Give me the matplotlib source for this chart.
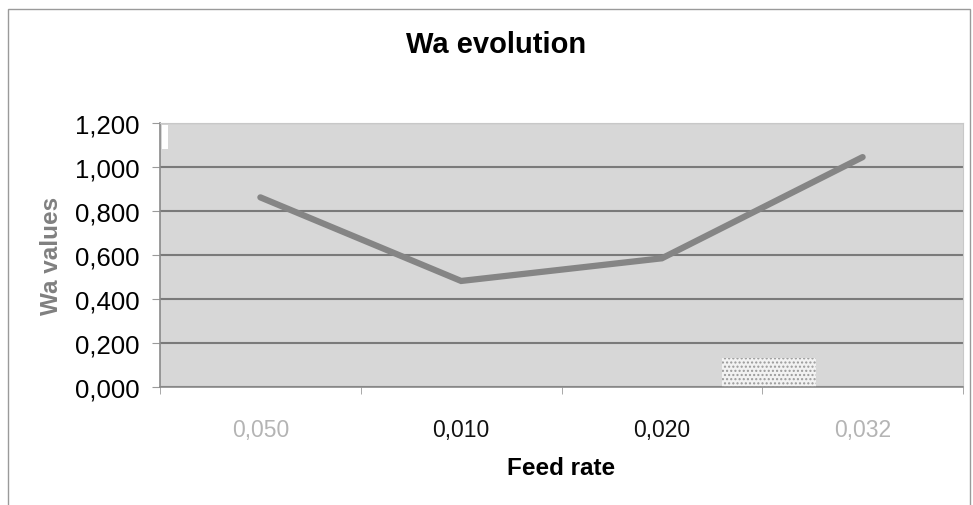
import numpy as np
from matplotlib import pyplot as plt
from matplotlib.patches import Rectangle
from matplotlib.ticker import FixedLocator, FuncFormatter

# data
feed_rates = ["0,050", "0,010", "0,020", "0,032"]
wa_values = [0.862, 0.482, 0.585, 1.045]
label_colors = ["#b4b4b4", "#111111", "#111111", "#b4b4b4"]

plt.rcParams['font.family'] = ['Liberation Sans', 'DejaVu Sans']

fig = plt.figure(figsize=(9.73, 5.06), dpi=100)
ax = fig.add_axes([160 / 973, 1 - 388 / 506, 803 / 973, 264 / 506])

# outer chart frame
fig.patches.append(Rectangle((8 / 973, -0.01), 962 / 973, 1 - 10 / 506 + 0.01,
                             transform=fig.transFigure, fill=False,
                             edgecolor="#9a9a9a", linewidth=1.0))

ax.set_facecolor("#d7d7d7")
x = np.arange(len(feed_rates))
ax.plot(x, wa_values, color="#858585", linewidth=4.5, solid_capstyle="round",
        solid_joinstyle="miter", zorder=3)

ax.set_xlim(-0.5, len(feed_rates) - 0.5)
ax.set_ylim(0, 1.2)

ax.yaxis.set_major_locator(FixedLocator(np.arange(0, 1.21, 0.2)))
ax.yaxis.set_major_formatter(FuncFormatter(lambda v, p: "{:.3f}".format(v).replace(".", ",")))
ax.grid(axis="y", color="#7a7a7a", linewidth=1.5, zorder=1)
ax.set_axisbelow(True)

ax.set_xticks(x)
ax.set_xticklabels(feed_rates, fontsize=16.5)
for lbl, c in zip(ax.get_xticklabels(), label_colors):
    lbl.set_color(c)
ax.tick_params(axis="x", which="major", length=0, pad=22)
ax.set_xticks(np.arange(-0.5, len(feed_rates)), minor=True)
ax.tick_params(axis="x", which="minor", length=5, color="#9a9a9a", direction="out")
ax.tick_params(axis="y", length=6, color="#9a9a9a", labelsize=18.5, pad=9)

for name in ["left", "bottom"]:
    ax.spines[name].set_color("#8a8a8a")
    ax.spines[name].set_linewidth(1.2)
for name in ["top", "right"]:
    ax.spines[name].set_color("#c8c8c8")

fig.text(496 / 973, 1 - 45 / 506, "Wa evolution", fontsize=21, fontweight="bold",
         ha="center", va="center")
ax.set_xlabel("Feed rate", fontsize=17.5, fontweight="bold", labelpad=11)
ax.set_ylabel("Wa values", fontsize=17.5, fontweight="bold", color="#808080", labelpad=8)

# scan artefacts: white specks in the plot area
ax.add_patch(Rectangle((2.3, 0.0), 0.47, 0.13, facecolor="#f2f2f2", edgecolor="#9a9a9a",
                       linewidth=0, hatch="....", zorder=2))
ax.add_patch(Rectangle((-0.49, 1.08), 0.03, 0.11, facecolor="white", edgecolor="none", zorder=2))

fig.savefig("out.png", dpi=100)
